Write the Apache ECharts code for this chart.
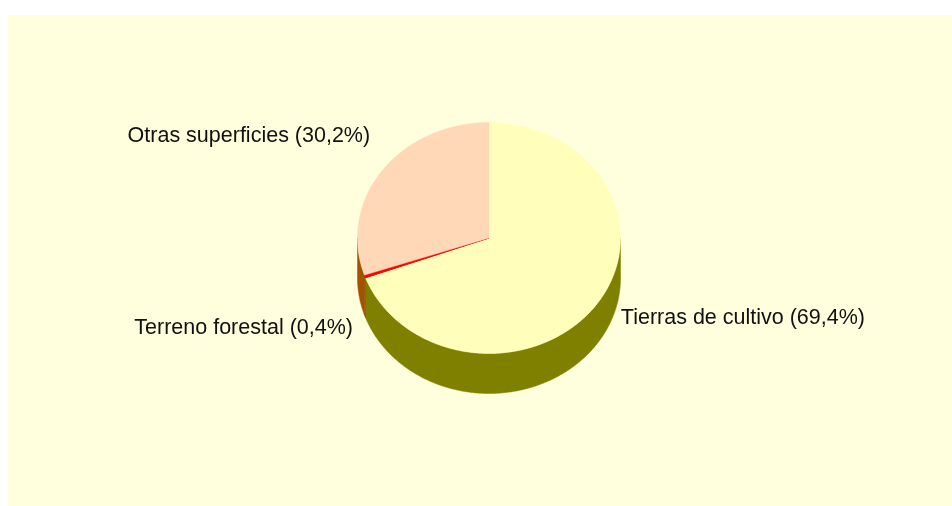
<!DOCTYPE html>
<html>
<head>
<meta charset="utf-8">
<script src="https://cdn.jsdelivr.net/npm/echarts@6/dist/echarts.min.js"></script>
<style>
  html, body { margin: 0; padding: 0; background: #fff; }
  #chart { width: 952px; height: 506px; }
</style>
</head>
<body>
<div id="chart"></div>
<script>
// Superficie por uso del suelo
var categories = ['Tierras de cultivo', 'Terreno forestal', 'Otras superficies'];
var shares = [69.4, 0.4, 30.2];
var topColors = ['#FFFFBB', '#FF0000', '#FFD8B8'];
var sideColors = ['#808000', '#9A4A00', '#A35200'];
// label nudge from the slice rim (px)
var labelNudge = [[24, 14], [-12, 52], [-12, -35]];

var total = shares.reduce(function (a, b) { return a + b; }, 0);

// pie geometry
var cx = 489, cy = 238, rx = 131.5, ry = 115.5, depth = 40;

function pt(a, dy) {
    return [cx + rx * Math.sin(a), cy - ry * Math.cos(a) + (dy || 0)];
}

function arc(a0, a1, dy) {
    var pts = [];
    var n = Math.max(2, Math.ceil((a1 - a0) / (Math.PI / 360)));
    for (var i = 0; i <= n; i++) {
        pts.push(pt(a0 + (a1 - a0) * i / n, dy));
    }
    return pts;
}

function renderItem(params, api) {
    var idx = params.dataIndex;
    var before = 0;
    for (var i = 0; i < idx; i++) before += shares[i];
    var start = before / total * Math.PI * 2;
    var end = (before + api.value(0)) / total * Math.PI * 2;
    var children = [];

    // front wall
    var s = Math.max(start, Math.PI / 2), e = Math.min(end, Math.PI * 1.5);
    if (e > s) {
        var wall = arc(s, e, 0).concat(arc(s, e, depth).reverse());
        children.push({
            type: 'polygon',
            shape: { points: wall },
            style: { fill: sideColors[idx], stroke: sideColors[idx], lineWidth: 0.5 }
        });
    }

    // top face
    var top = [[cx, cy]].concat(arc(start, end, 0));
    children.push({
        type: 'polygon',
        z2: 10,
        shape: { points: top },
        style: { fill: topColors[idx], stroke: topColors[idx], lineWidth: idx === 1 ? 1 : 0.5 }
    });

    // label
    var mid = (start + end) / 2;
    var anchor = pt(mid, 0);
    var right = Math.sin(mid) > 0;
    children.push({
        type: 'text',
        z2: 20,
        x: anchor[0] + labelNudge[idx][0],
        y: anchor[1] + labelNudge[idx][1],
        style: {
            text: categories[idx] + ' (' + String(api.value(0)).replace('.', ',') + '%)',
            fill: '#111',
            font: '21.5px "Liberation Sans", Arial, sans-serif',
            align: right ? 'left' : 'right',
            verticalAlign: 'middle'
        }
    });

    return { type: 'group', children: children };
}

var option = {
    backgroundColor: '#ffffff',
    animation: false,
    graphic: [{
        type: 'rect',
        z: -10,
        left: 8,
        top: 15,
        shape: { width: 944, height: 491 },
        style: { fill: '#FFFFDD' }
    }],
    series: [{
        type: 'custom',
        coordinateSystem: 'none',
        renderItem: renderItem,
        data: shares.map(function (v, i) { return { name: categories[i], value: [v] }; })
    }]
};

var myChart = echarts.init(document.getElementById('chart'));
myChart.setOption(option, true);
</script>
</body>
</html>
